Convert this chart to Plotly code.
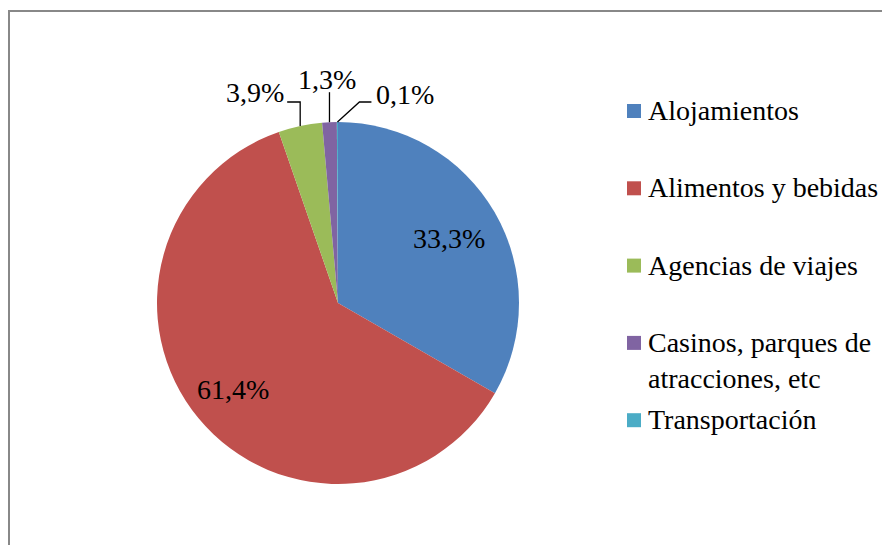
import math
import plotly.graph_objects as go

categories = ["Alojamientos", "Alimentos y bebidas", "Agencias de viajes",
              "Casinos, parques de<br>atracciones, etc", "Transportación"]
values = [33.3, 61.4, 3.9, 1.3, 0.1]
colors = ["#4F81BD", "#C0504D", "#9BBB59", "#8064A2", "#4BACC6"]
label_texts = ["33,3%", "61,4%", "3,9%", "1,3%", "0,1%"]

W, H = 890, 545
OFF = 8  # page body margin
FONT = "Liberation Serif"
FS = 28

# pie geometry (target pixels)
cx, cy, R = 338, 303, 181


def px(x):
    return (x - OFF) / W


def py(y):
    return 1 - (y - OFF) / H


fig = go.Figure()
fig.add_trace(go.Pie(
    labels=[c.replace("<br>", " ") for c in categories],
    values=values,
    marker=dict(colors=colors, line=dict(width=0)),
    sort=False,
    direction="clockwise",
    rotation=0,
    textinfo="none",
    domain=dict(x=[px(cx - R), px(cx + R)], y=[py(cy + R), py(cy - R)]),
    showlegend=False,
    hoverinfo="label+percent",
))

shapes = []
annotations = []

total = sum(values)
cum = 0.0
inside_frac = {0: 0.71, 1: 0.75}
leader = {
    2: dict(pts=[(0, -24), (-13, -24)], anchor="right", dx=-1, dy=-9),
    3: dict(pts=[(0, -30)], anchor="center", dx=-2, dy=-13),
    4: dict(pts=[(22, -20), (34, -20)], anchor="left", dx=3, dy=-8),
}
for i, v in enumerate(values):
    mid = (cum + v / 2) / total * 2 * math.pi
    cum += v
    if i in inside_frac:
        f = inside_frac[i]
        lx = cx + f * R * math.sin(mid)
        ly = cy - f * R * math.cos(mid)
        annotations.append(dict(
            x=px(lx), y=py(ly), xref="paper", yref="paper",
            text=label_texts[i], showarrow=False, xanchor="center", yanchor="middle",
            font=dict(family=FONT, size=FS, color="black")))
        continue
    ax = cx + R * math.sin(mid)
    ay = cy - R * math.cos(mid)
    info = leader[i]
    path_pts = [(ax, ay)] + [(ax + ox, ay + oy) for ox, oy in info["pts"]]
    path = "M " + " L ".join(f"{px(x)},{py(y)}" for x, y in path_pts)
    shapes.append(dict(type="path", path=path, xref="paper", yref="paper",
                       line=dict(color="black", width=1.3)))
    ex, ey = path_pts[-1]
    annotations.append(dict(
        x=px(ex + info["dx"]), y=py(ey + info["dy"]), xref="paper", yref="paper",
        text=label_texts[i], showarrow=False, xanchor=info["anchor"], yanchor="middle",
        font=dict(family=FONT, size=FS, color="black")))

# legend
leg_x0 = 627
leg_y0 = 111
leg_pitch = 77.3
sq = 14
for i, (c, col) in enumerate(zip(categories, colors)):
    yc = leg_y0 + i * leg_pitch
    shapes.append(dict(type="rect", xref="paper", yref="paper",
                       x0=px(leg_x0), x1=px(leg_x0 + sq),
                       y0=py(yc + sq / 2), y1=py(yc - sq / 2),
                       fillcolor=col, line=dict(width=0)))
    annotations.append(dict(
        x=px(leg_x0 + sq + 5), y=py(yc - 18), xref="paper", yref="paper",
        text=c, showarrow=False, xanchor="left", yanchor="top", align="left",
        font=dict(family=FONT, size=FS, color="black")))

# chart area border (top and left visible)
shapes.append(dict(type="path",
                   path=f"M {px(9)},{py(H + 20)} L {px(9)},{py(11)} L {px(W + 20)},{py(11)}",
                   xref="paper", yref="paper", line=dict(color="#888888", width=2)))

fig.update_layout(
    width=W, height=H,
    margin=dict(l=0, r=0, t=0, b=0),
    paper_bgcolor="white",
    plot_bgcolor="white",
    separators=",.",
    font=dict(family=FONT, size=FS, color="black"),
    shapes=shapes,
    annotations=annotations,
)

fig.write_html("out.html")
